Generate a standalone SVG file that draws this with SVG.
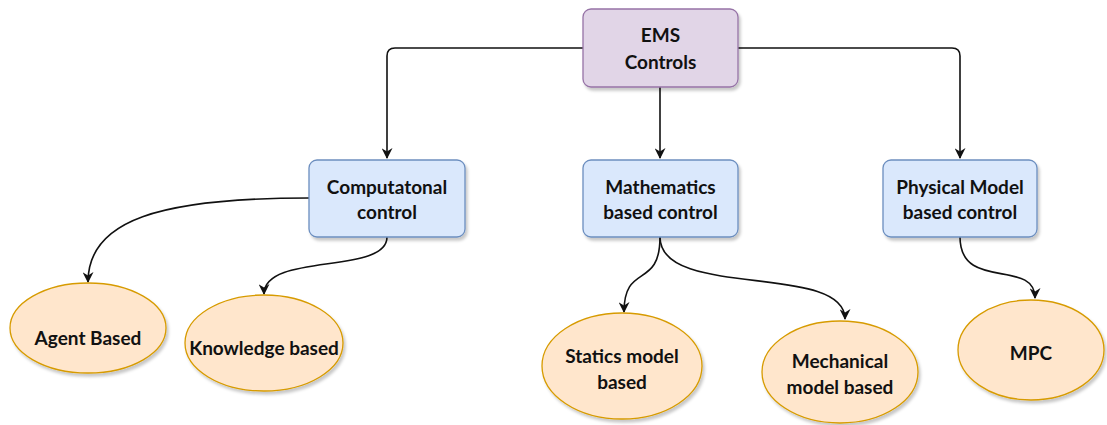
<svg xmlns="http://www.w3.org/2000/svg" width="1107" height="425" viewBox="0 0 1107 425">
  <style>
    .lbl { font-family: Lato, "Open Sans", "Liberation Sans", sans-serif; font-weight: bold; font-size: 19px; fill: #111; text-anchor: middle; }
    .root { fill: #e1d5e7; stroke: #9673a6; stroke-width: 1.3; }
    .ctl { fill: #dae8fc; stroke: #6c8ebf; stroke-width: 1.3; }
    .leaf { fill: #ffe6cc; stroke: #d79b00; stroke-width: 1.3; }
    .edge { fill: none; stroke: #111; stroke-width: 1.6; }
  </style>
  <defs>
    <filter id="shadow" x="-10%" y="-10%" width="125%" height="130%">
      <feDropShadow dx="2" dy="3" stdDeviation="1.5" flood-color="#000" flood-opacity="0.22"/>
    </filter>
    <marker id="arrow" viewBox="0 0 10 10" refX="9" refY="5" markerWidth="12" markerHeight="11" markerUnits="userSpaceOnUse" orient="auto">
      <path d="M0,0 L10,5 L0,10 L3,5 Z" fill="#111"/>
    </marker>
  </defs>

  <!-- connectors -->
  <g id="connectors">
    <path class="edge" d="M583,48 H395 Q387,48 387,56 V158" marker-end="url(#arrow)"/>
    <path class="edge" d="M660,87 V158" marker-end="url(#arrow)"/>
    <path class="edge" d="M738,48 H952 Q960,48 960,56 V158" marker-end="url(#arrow)"/>
    <path class="edge" d="M309,198 C160,198 88,220 88,282" marker-end="url(#arrow)"/>
    <path class="edge" d="M387,237 C387,275 264,252 264,294" marker-end="url(#arrow)"/>
    <path class="edge" d="M660,237 C660,290 624,262 624,312" marker-end="url(#arrow)"/>
    <path class="edge" d="M660,237 C660,300 845,262 845,319" marker-end="url(#arrow)"/>
    <path class="edge" d="M960,237 C960,292 1035,258 1035,298" marker-end="url(#arrow)"/>
  </g>

  <g id="ems-controls">
    <rect class="root" x="583" y="9" width="155" height="78" rx="8" filter="url(#shadow)"/>
    <text class="lbl" x="660.5" y="42">EMS</text>
    <text class="lbl" x="660.5" y="69">Controls</text>
  </g>

  <g id="computational-control">
    <rect class="ctl" x="309" y="160" width="156" height="77" rx="8" filter="url(#shadow)"/>
    <text class="lbl" x="387" y="194">Computatonal</text>
    <text class="lbl" x="387" y="219">control</text>
  </g>

  <g id="mathematics-control">
    <rect class="ctl" x="583" y="160" width="155" height="77" rx="8" filter="url(#shadow)"/>
    <text class="lbl" x="660.5" y="194">Mathematics</text>
    <text class="lbl" x="660.5" y="219">based control</text>
  </g>

  <g id="physical-model-control">
    <rect class="ctl" x="883" y="160" width="154" height="77" rx="8" filter="url(#shadow)"/>
    <text class="lbl" x="960" y="194">Physical Model</text>
    <text class="lbl" x="960" y="219">based control</text>
  </g>

  <g id="agent-based">
    <ellipse class="leaf" cx="88" cy="328" rx="78" ry="45" filter="url(#shadow)"/>
    <text class="lbl" x="88" y="345">Agent Based</text>
  </g>

  <g id="knowledge-based">
    <ellipse class="leaf" cx="264" cy="343" rx="79" ry="48" filter="url(#shadow)"/>
    <text class="lbl" x="264" y="355">Knowledge based</text>
  </g>

  <g id="statics-model-based">
    <ellipse class="leaf" cx="622" cy="366" rx="80" ry="53" filter="url(#shadow)"/>
    <text class="lbl" x="622" y="363">Statics model</text>
    <text class="lbl" x="622" y="389">based</text>
  </g>

  <g id="mechanical-model-based">
    <ellipse class="leaf" cx="840" cy="372" rx="78" ry="51" filter="url(#shadow)"/>
    <text class="lbl" x="840" y="368">Mechanical</text>
    <text class="lbl" x="840" y="394">model based</text>
  </g>

  <g id="mpc">
    <ellipse class="leaf" cx="1031" cy="350" rx="73" ry="50" filter="url(#shadow)"/>
    <text class="lbl" x="1031" y="360">MPC</text>
  </g>
</svg>
